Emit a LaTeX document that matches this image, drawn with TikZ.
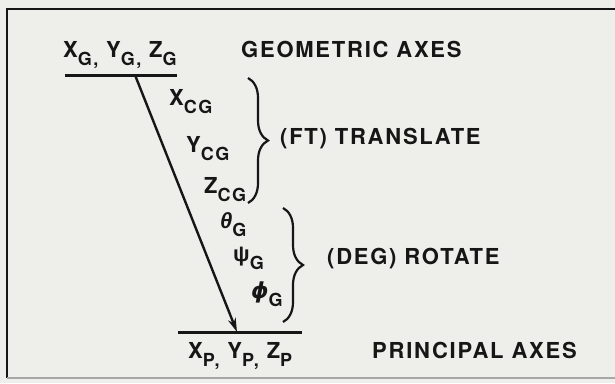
\documentclass[tikz,border=0pt]{standalone}
\usepackage{amsmath,amssymb}
\usepackage{fontspec}
\setmainfont[LetterSpace=8]{TeX Gyre Heros}
\newfontfamily\grk{Liberation Sans}
\newfontfamily\grkphi{DejaVu Sans}
\usepackage{tikz}
\usetikzlibrary{arrows.meta,decorations.pathreplacing}
\definecolor{ink}{RGB}{22,22,22}
\definecolor{paper}{RGB}{238,238,235}
\newcommand{\sbs}[1]{\raisebox{-8pt}{\fontsize{18}{18}\selectfont #1}}

\begin{document}
\begin{tikzpicture}[x=1pt,y=-1pt,>={Stealth[length=14pt,width=8pt]},
  lbl/.style={anchor=base west,inner sep=0pt,text=ink,
    font=\fontsize{22}{24}\selectfont\bfseries},
  gk/.style={lbl,font=\fontsize{22}{24}\selectfont\bfseries},
  axline/.style={line width=3pt,ink},
  brc/.style={decorate,decoration={brace,amplitude=20pt},line width=2.2pt,ink}]
  \useasboundingbox (0,0) rectangle (615,383);
  \fill[paper] (0,0) rectangle (615,383);
  % ---------------- frame (open on the right)
  \draw[line width=2.6pt,ink] (615,9) -- (7,9) -- (7,378);
  \draw[line width=2pt,gray!70] (7,378) -- (615,378);
  % ---------------- geometric axes
  \node[lbl] (geo) at (63,57) {X\sbs{G,} Y\sbs{G,} Z\sbs{G}};
  \node[lbl] (geotxt) at (241,57) {GEOMETRIC AXES};
  \coordinate (gl) at (65,75);
  \coordinate (gr) at (177,75);
  \coordinate (gs) at (135,75);
  \draw[axline] (gl) -- (gr);
  % ---------------- translation
  \node[lbl] (xcg) at (169,105) {X\sbs{CG}};
  \node[lbl] (ycg) at (186,152) {Y\sbs{CG}};
  \node[lbl] (zcg) at (204,193) {Z\sbs{CG}};
  \coordinate (ta) at (248,78);
  \coordinate (tb) at (248,203);
  \draw[brc] (ta) -- (tb);
  \node[lbl] (trans) at (280,144) {(FT) TRANSLATE};
  % ---------------- rotation
  \node[gk] (theta) at (220,228) {{\grk\itshape θ}\sbs{G}};
  \node[gk] (psi) at (233,261) {{\grk ψ}\sbs{G}};
  \node[gk] (phi) at (251,298) {{\grkphi\itshape ϕ}\sbs{G}};
  \coordinate (ra) at (283,208);
  \coordinate (rb) at (283,322);
  \draw[brc] (ra) -- (rb);
  \node[lbl] (rot) at (327,264) {(DEG) ROTATE};
  % ---------------- principal axes
  \coordinate (pl) at (178,332);
  \coordinate (pr) at (302,332);
  \coordinate (pe) at (237,332);
  \draw[axline] (pl) -- (pr);
  \draw[->,line width=2.4pt,ink] (gs) -- (pe);
  \node[lbl] (prin) at (188,358) {X\sbs{P,} Y\sbs{P,} Z\sbs{P}};
  \node[lbl] (printxt) at (372,358) {PRINCIPAL AXES};
\end{tikzpicture}
\end{document}
